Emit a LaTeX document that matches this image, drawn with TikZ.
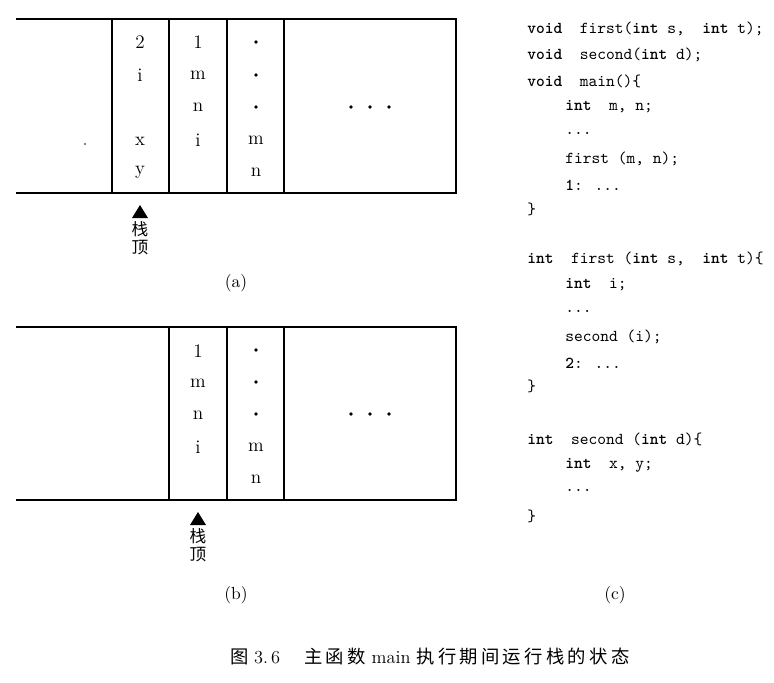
\documentclass[tikz,border=0pt]{standalone}
\usepackage{fontspec}
\newfontfamily\cjk{Noto Sans CJK SC}
\newfontfamily\cjkwide[LetterSpace=18]{Noto Sans CJK SC}
\usetikzlibrary{positioning}

\tikzset{
  cell/.style={font=\fontsize{11.5}{13}\selectfont, inner sep=0pt},
  code/.style={font=\ttfamily\fontsize{10}{12}\selectfont, anchor=west, inner sep=0pt},
  sub/.style={font=\fontsize{10.5}{12}\selectfont, inner sep=0pt},
  sptext/.style={font=\cjk\fontsize{10}{11}\selectfont, align=center, inner sep=0pt},
  stackline/.style={line width=0.8pt}
}

\begin{document}
\begin{tikzpicture}[x=0.6pt,y=-0.6pt]
  \useasboundingbox (0,0) rectangle (774,682);

  % (a) stack while second runs
  \draw[stackline] (16,19) -- (456,19) -- (456,193) -- (16,193);
  \foreach \xv in {112,169,227,284}
    \draw[stackline] (\xv,19) -- (\xv,193);
  \node[cell] (a2) at (140,42) {2};
  \node[cell] (ai) at (140,75) {i};
  \node[cell] (ax) at (140,141) {x};
  \node[cell] (ay) at (140,172) {y};
  \node[cell] (a1) at (198,42) {1};
  \node[cell] (am) at (198,75) {m};
  \node[cell] (an) at (198,107) {n};
  \node[cell] (aii) at (198,140) {i};
  \foreach \yv in {42,75,107}
    \fill (256,\yv) circle (1.8);
  \node[cell] (amm) at (256,140) {m};
  \node[cell] (ann) at (256,172) {n};
  \foreach \xv in {351,370,389}
    \fill (\xv,107) circle (1.9);
  \fill (85,144) circle (0.8);
  \fill (132,218) -- (148,218) -- (140,205) -- cycle;
  \node[sptext, anchor=north] (spa) at (140,221) {栈\\顶};
  \node[sub] (capa) at (236,283) {(a)};

  % (b) stack after second returns
  \draw[stackline] (16,327) -- (456,327) -- (456,500) -- (16,500);
  \foreach \xv in {169,227,284}
    \draw[stackline] (\xv,327) -- (\xv,500);
  \node[cell] (b1) at (198,351) {1};
  \node[cell] (bm) at (198,383) {m};
  \node[cell] (bn) at (198,415) {n};
  \node[cell] (bi) at (198,447) {i};
  \foreach \yv in {350,382,414}
    \fill (256,\yv) circle (1.8);
  \node[cell] (bmm) at (256,447) {m};
  \node[cell] (bnn) at (256,479) {n};
  \foreach \xv in {351,370,389}
    \fill (\xv,414) circle (1.9);
  \fill (190,525) -- (206,525) -- (198,512) -- cycle;
  \node[sptext, anchor=north] (spb) at (198,528) {栈\\顶};
  \node[sub] (capb) at (236,595) {(b)};

  % (c) program text
  \node[code] (l1) at (527,29) {\textbf{void}\ \ first(\textbf{int} s,\ \ \textbf{int} t);};
  \node[code] (l2) at (527,55) {\textbf{void}\ \ second(\textbf{int} d);};
  \node[code] (l3) at (527,81) {\textbf{void}\ \ main()\{};
  \node[code] (l4) at (565,107) {\textbf{int}\ \ m, n;};
  \node[code] (l5) at (565,133) {...};
  \node[code] (l6) at (565,159) {first (m, n);};
  \node[code] (l7) at (565,185) {\textbf{1}: ...};
  \node[code] (l8) at (527,209) {\}};
  \node[code] (l9) at (527,259) {\textbf{int}\ \ first (\textbf{int} s,\ \ \textbf{int} t)\{};
  \node[code] (l10) at (565,285) {\textbf{int}\ \ i;};
  \node[code] (l11) at (565,311) {...};
  \node[code] (l12) at (565,337) {second (i);};
  \node[code] (l13) at (565,363) {\textbf{2}: ...};
  \node[code] (l14) at (527,386) {\}};
  \node[code] (l15) at (527,439) {\textbf{int}\ \ second (\textbf{int} d)\{};
  \node[code] (l16) at (565,465) {\textbf{int}\ \ x, y;};
  \node[code] (l17) at (565,490) {...};
  \node[code] (l18) at (527,516) {\}};
  \node[sub] (capc) at (615,595) {(c)};

  % caption
  \node[font=\fontsize{11}{13}\selectfont, inner sep=0pt, anchor=west] (title) at (230,657)
    {{\cjkwide 图}\hspace{0.3em}3.\,6\hspace{1.3em}{\cjkwide 主函数} main {\cjkwide 执行期间运行栈的状态}};
\end{tikzpicture}
\end{document}
